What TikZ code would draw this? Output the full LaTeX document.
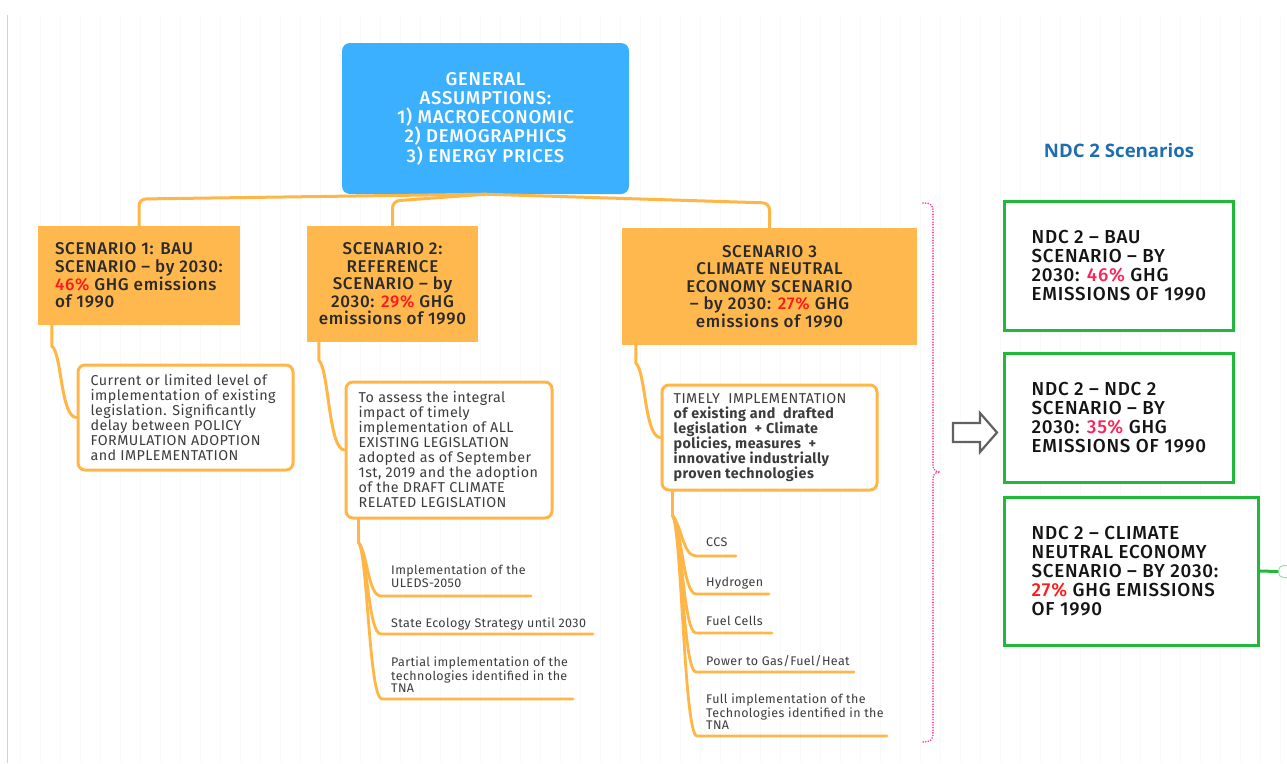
\documentclass[tikz,border=0pt]{standalone}
\usepackage{fontspec}
\setmainfont{Fira Sans}[LetterSpace=3]
\newfontfamily\medfont{Fira Sans Medium}[LetterSpace=4]
\newfontfamily\titlefont{Open Sans}
\usetikzlibrary{calc}
\definecolor{bluebox}{HTML}{3BB0FF}
\definecolor{orangebox}{HTML}{FFB84D}
\definecolor{orline}{HTML}{FFB646}
\definecolor{redt}{HTML}{FF1A1A}
\definecolor{pinkt}{HTML}{FF2458}
\definecolor{greenb}{HTML}{22B83A}
\definecolor{titleblue}{HTML}{1F6DB0}
\definecolor{pinkd}{HTML}{FF3399}
\definecolor{txt}{HTML}{2A2A2A}
\definecolor{txtg}{HTML}{3C3C3C}
\definecolor{gridc}{HTML}{F8F9F9}
\begin{document}
\begin{tikzpicture}[x=1pt,y=-1pt,
 genbox/.style={fill=bluebox, rounded corners=8, text=white, align=center, font=\medfont\fontsize{18.5}{19.2}\selectfont, inner sep=0},
 scbox/.style={fill=orangebox, inner sep=0, text=txt, align=center, font=\medfont\fontsize{17}{17.6}\selectfont},
 sctext/.style={text=txt, align=left, font=\medfont\fontsize{17}{17.6}\selectfont, inner sep=0, anchor=west},
 detbox/.style={draw=orline, line width=3, rounded corners=7, fill=white, inner sep=0},
 dettext/.style={text=txtg, align=left, font=\fontsize{14.3}{15}\selectfont, inner sep=0, anchor=west},
 subtext/.style={text=txtg, align=left, font=\fontsize{12.5}{12.4}\selectfont, inner sep=0, anchor=north west},
 conn/.style={draw=orline, line width=3, line cap=round},
 subconn/.style={draw=orline, line width=2.8, line cap=round},
 ndcbox/.style={draw=greenb, line width=3, fill=white, inner sep=0},
 ndctext/.style={text=black!92, align=left, font=\medfont\fontsize{18.8}{19.2}\selectfont, inner sep=0, anchor=west},
 brace/.style={draw=pinkd, line width=1.8, dash pattern=on 0.01pt off 2.6pt, line cap=round},
]
\fill[white] (0,0) rectangle (1287,763);
\useasboundingbox (0,0) rectangle (1287,763);
\draw[gridc, line width=0.5, step=20] (7,15) grid (1287,763);
\draw[black!18, line width=1] (7,15) -- (7,763);

% central node
\node[genbox, minimum width=287, minimum height=151] (gen) at (485.5,118.5)
 {GENERAL\\ASSUMPTIONS:\\1) MACROECONOMIC\\2) DEMOGRAPHICS\\3) ENERGY PRICES};

% scenarios
\node[scbox, minimum width=202, minimum height=99] (s1) at (139,275.5) {};
\node[sctext] (s1t) at ($(s1.west)+(17,0)$)
 {SCENARIO 1: BAU\\SCENARIO – by 2030:\\{\color{redt}46\%} GHG emissions\\of 1990};
\node[scbox, minimum width=171, minimum height=116] (s2) at (392.5,284)
 {SCENARIO 2:\\REFERENCE\\SCENARIO – by\\2030: {\color{redt}29\%} GHG\\emissions of 1990};
\node[scbox, minimum width=295, minimum height=117] (s3) at (769.5,286.5)
 {SCENARIO 3\\CLIMATE NEUTRAL\\ECONOMY SCENARIO\\– by 2030: {\color{redt}27\%} GHG\\emissions of 1990};

\coordinate (hubL) at (0,199);
\coordinate (hubM) at (0,201);
\coordinate (hubR) at (0,203);
\draw[conn, rounded corners=7] (gen.south) -- (s1.north |- hubL) -- (s1.north);
\draw[conn, rounded corners=7] (gen.south) -- (s2.north |- hubM) -- (s2.north);
\draw[conn, rounded corners=7] (gen.south) -- (s3.north |- hubR) -- (s3.north);

% detail boxes
\node[detbox, minimum width=215, minimum height=105] (d1) at (185.5,417.5) {};
\node[dettext] (d1t) at ($(d1.west)+(14,0)$)
 {Current or limited level of\\implementation of existing\\legislation. Significantly\\delay between POLICY\\FORMULATION ADOPTION\\and IMPLEMENTATION};
\node[detbox, minimum width=206, minimum height=136] (d2) at (449,450) {};
\node[dettext] (d2t) at ($(d2.west)+(14,0)$)
 {To assess the integral\\impact of timely\\implementation of ALL\\EXISTING LEGISLATION\\adopted as of September\\1st, 2019 and the adoption\\of the DRAFT CLIMATE\\RELATED LEGISLATION};
\node[detbox, minimum width=215, minimum height=105] (d3) at (769.5,437.5) {};
\node[dettext] (d3t) at ($(d3.west)+(13,0)$)
 {TIMELY~ IMPLEMENTATION\\\bfseries of existing and~ drafted\\\bfseries legislation~ + Climate\\\bfseries policies, measures~ +\\\bfseries innovative industrially\\\bfseries proven technologies};

\draw[conn] ($(s1.south west)+(14,0)$) coordinate (a1) -- ($(a1)+(0,21)$) coordinate (b1)
  .. controls ($(b1)+(10,6)$) and ($(d1.west)+(-16,0)$) .. (d1.west);
\draw[conn] ($(s2.south west)+(12,0)$) coordinate (a2) -- ($(a2)+(0,18)$) coordinate (b2)
  .. controls ($(b2)+(10,8)$) and ($(d2.west)+(-16,0)$) .. (d2.west);
\draw[conn] ($(s3.south west)+(14,0)$) coordinate (a3) -- ($(a3)+(0,18)$) coordinate (b3)
  .. controls ($(b3)+(10,8)$) and ($(d3.west)+(-16,0)$) .. (d3.west);

% sub items of scenario 2
\draw[conn] ($(d2.south west)+(14,0)$) coordinate (g2) -- ($(g2)+(0,23)$) coordinate (h2);
\node[subtext] (t21) at (391,565) {Implementation of the\\ULEDS-2050};
\node[subtext] (t22) at (391,618) {State Ecology Strategy until 2030};
\node[subtext] (t23) at (391,657) {Partial implementation of the\\technologies identified in the\\TNA};
\coordinate (l21) at (381,596); \coordinate (e21) at (531,596);
\coordinate (l22) at (381,634); \coordinate (e22) at (593,634);
\coordinate (l23) at (382,699); \coordinate (e23) at (573,699);
\foreach \i in {21,22,23}{
  \draw[subconn] (h2) .. controls ($(h2)+(9,10)$) and ($(l\i)+(-13,0)$) .. (l\i) -- (e\i);
}

% sub items of scenario 3
\draw[conn] ($(d3.south west)+(12,0)$) coordinate (g3) -- ($(g3)+(0,24)$) coordinate (h3);
\node[subtext] (t31) at (706,538) {CCS};
\node[subtext] (t32) at (706,577) {Hydrogen};
\node[subtext] (t33) at (706,616) {Fuel Cells};
\node[subtext] (t34) at (706,655) {Power to Gas/Fuel/Heat};
\node[subtext] (t35) at (706,694) {Full implementation of the\\Technologies identified in the\\TNA};
\coordinate (l31) at (696,556); \coordinate (e31) at (736,556);
\coordinate (l32) at (696,594); \coordinate (e32) at (769,594);
\coordinate (l33) at (696,633); \coordinate (e33) at (772,633);
\coordinate (l34) at (696,672); \coordinate (e34) at (854,672);
\coordinate (l35) at (697,736); \coordinate (e35) at (887,736);
\foreach \i in {31,32,33,34,35}{
  \draw[subconn] (h3) .. controls ($(h3)+(9,10)$) and ($(l\i)+(-13,0)$) .. (l\i) -- (e\i);
}

% pink dotted brace
\draw[brace] (923,203) .. controls (931,203) and (933,205) .. (933,212) -- (933,466)
  .. controls (933,470) and (936,472) .. (940,472)
  .. controls (936,472) and (933,474) .. (933,478) -- (933,733)
  .. controls (933,740) and (930,742) .. (923,742);

% hollow arrow
\draw[draw=black!62, line width=2.2, fill=white, line join=miter]
  (953,423) -- (980,423) -- (980,413) -- (997,432.5) -- (980,452) -- (980,442) -- (953,442) -- cycle;

% NDC 2 scenarios
\node[font=\titlefont\bfseries\fontsize{18.6}{20}\selectfont, text=titleblue, anchor=base, inner sep=0] (title) at (1119,157) {NDC 2 Scenarios};

\node[ndcbox, minimum width=229, minimum height=129] (na) at (1118.5,265.5) {};
\node[ndctext] (nat) at ($(na.west)+(29,0)$)
 {NDC 2 – BAU\\SCENARIO – BY\\2030: {\color{pinkt}46\%} GHG\\EMISSIONS OF 1990};
\node[ndcbox, minimum width=229, minimum height=129] (nb) at (1118.5,417.5) {};
\node[ndctext] (nbt) at ($(nb.west)+(29,0)$)
 {NDC 2 – NDC 2\\SCENARIO – BY\\2030: {\color{pinkt}35\%} GHG\\EMISSIONS OF 1990};
\node[ndcbox, minimum width=254, minimum height=148] (nc) at (1131,571) {};
\node[ndctext] (nct) at ($(nc.west)+(29,0)$)
 {NDC 2 – CLIMATE\\NEUTRAL ECONOMY\\SCENARIO – BY 2030:\\{\color{redt}27\%} GHG EMISSIONS\\OF 1990};

\node[draw=greenb!45, fill=white, rounded corners=5, line width=1, minimum width=26, minimum height=12, inner sep=0, anchor=west] (pill) at (1278,571.5) {};
\draw[draw=greenb, line width=3] (nc.east) -- (pill.west);
\end{tikzpicture}
\end{document}
